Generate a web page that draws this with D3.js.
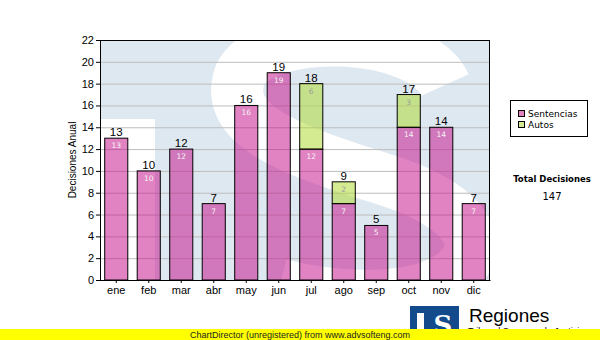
<!DOCTYPE html>
<html><head><meta charset="utf-8">
<script src="https://cdn.jsdelivr.net/npm/d3@7"></script>
<style>body{margin:0;background:#fff}svg{display:block}</style>
</head><body>
<script>
const months = ["ene","feb","mar","abr","may","jun","jul","ago","sep","oct","nov","dic"];
const sentencias = [13,10,12,7,16,19,12,7,5,14,14,7];
const autos = [0,0,0,0,0,0,6,2,0,3,0,0];
const seriesNames = ["Sentencias","Autos"];
const yTicks = [0,2,4,6,8,10,12,14,16,18,20,22];
const totalLabel = "Total Decisiones";

const W=600,H=340;
const L=100,R=490,T=40,B=280;
const svg=d3.select("body").append("svg").attr("width",W).attr("height",H);
const x=d3.scaleBand().domain(months).range([L,R]).paddingInner(0.29).paddingOuter(0.145);
const y=d3.scaleLinear().domain([0,22]).range([B,T]);

const pinkFill="rgb(198,18,139)", greenFill="rgb(176,218,49)", op=0.53;

// plot background + watermark
svg.append("clipPath").attr("id","pc").append("rect").attr("x",L).attr("y",T).attr("width",R-L).attr("height",B-T);
const bg=svg.append("g").attr("clip-path","url(#pc)");
bg.append("rect").attr("x",L).attr("y",T).attr("width",R-L).attr("height",B-T).attr("fill","#dee8f1");
bg.append("rect").attr("x",L).attr("y",119).attr("width",55).attr("height",170).attr("fill","#fff");
bg.append("path").attr("d","M 445 85 C 420 30, 265 25, 240 75 C 222 125, 290 150, 380 178 C 470 205, 495 250, 445 280 C 400 305, 320 295, 280 285")
  .attr("fill","none").attr("stroke","#fff").attr("stroke-width",52);

// gridlines
svg.append("g").selectAll("line").data(yTicks.filter(d=>d>0&&d<22)).join("line")
  .attr("x1",L).attr("x2",R).attr("y1",d=>y(d)+0.5).attr("y2",d=>y(d)+0.5)
  .attr("stroke","#bdbdbd").attr("stroke-width",1);

// bars
const stack=months.map((m,i)=>({m,s:sentencias[i],a:autos[i],t:sentencias[i]+autos[i]}));
const g=svg.append("g");
g.selectAll("rect.s").data(stack).join("rect").attr("class","s")
  .attr("x",d=>x(d.m)).attr("width",x.bandwidth())
  .attr("y",d=>y(d.s)).attr("height",d=>y(0)-y(d.s))
  .attr("fill",pinkFill).attr("fill-opacity",op).attr("stroke","#000").attr("stroke-width",1);
g.selectAll("rect.a").data(stack.filter(d=>d.a>0)).join("rect").attr("class","a")
  .attr("x",d=>x(d.m)).attr("width",x.bandwidth())
  .attr("y",d=>y(d.s+d.a)).attr("height",d=>y(d.s)-y(d.s+d.a))
  .attr("fill",greenFill).attr("fill-opacity",op).attr("stroke","#000").attr("stroke-width",1);

// inner labels
g.selectAll("text.si").data(stack).join("text").attr("class","si")
  .attr("x",d=>x(d.m)+x.bandwidth()/2).attr("y",d=>y(d.s)+10)
  .attr("text-anchor","middle").attr("font-family","DejaVu Sans").attr("font-size",7.5)
  .attr("fill","#f4f4f4").text(d=>d.s);
g.selectAll("text.ai").data(stack.filter(d=>d.a>0)).join("text").attr("class","ai")
  .attr("x",d=>x(d.m)+x.bandwidth()/2).attr("y",d=>y(d.s+d.a)+10)
  .attr("text-anchor","middle").attr("font-family","DejaVu Sans").attr("font-size",7.5)
  .attr("fill","#9a9a9a").text(d=>d.a);
// totals
g.selectAll("text.t").data(stack).join("text").attr("class","t")
  .attr("x",d=>x(d.m)+x.bandwidth()/2).attr("y",d=>y(d.t)-2)
  .attr("text-anchor","middle").attr("font-family","Liberation Sans").attr("font-size",11.5)
  .attr("fill","#000").text(d=>d.t);

// frame
svg.append("rect").attr("x",L+0.5).attr("y",T+0.5).attr("width",R-L-1).attr("height",B-T).attr("fill","none").attr("stroke","#000");

// axes
const ya=svg.append("g").attr("transform",`translate(${L},0)`)
  .call(d3.axisLeft(y).tickValues(yTicks).tickSize(4).tickPadding(2).tickSizeOuter(0));
ya.select(".domain").attr("stroke","#000");
ya.selectAll("text").attr("font-family","Liberation Sans").attr("font-size",11).attr("fill","#000");
const xa=svg.append("g").attr("transform",`translate(0,${B})`)
  .call(d3.axisBottom(x).tickSize(3).tickPadding(3).tickSizeOuter(0));
xa.select(".domain").attr("stroke","#000");
xa.selectAll("text").attr("font-family","Liberation Sans").attr("font-size",11).attr("fill","#000");

svg.append("text").attr("transform","translate(76,160) rotate(-90)").attr("text-anchor","middle")
  .attr("font-family","Liberation Sans").attr("font-size",10).text("Decisiones Anual");

// legend
const lg=svg.append("g");
lg.append("rect").attr("x",510.5).attr("y",100.5).attr("width",77).attr("height",36).attr("fill","#fff").attr("stroke","#000");
const lc=[pinkFill,greenFill];
seriesNames.forEach((n,i)=>{
  lg.append("rect").attr("x",518.5).attr("y",110.5+i*11).attr("width",6).attr("height",6)
    .attr("fill",lc[i]).attr("fill-opacity",op).attr("stroke","#000");
  lg.append("text").attr("x",528).attr("y",117+i*11).attr("font-family","DejaVu Sans").attr("font-size",9).text(n);
});

const total=d3.sum(sentencias)+d3.sum(autos);
svg.append("text").attr("x",552).attr("y",181.5).attr("text-anchor","middle").attr("font-family","DejaVu Sans")
  .attr("font-weight","bold").attr("font-size",8.5).text(totalLabel);
svg.append("text").attr("x",552).attr("y",200).attr("text-anchor","middle").attr("font-family","DejaVu Sans")
  .attr("font-size",10).text(total);

// logo
const lo=svg.append("g");
lo.append("rect").attr("x",410).attr("y",306).attr("width",49).attr("height",34).attr("fill","#124a8c");
lo.append("rect").attr("x",417).attr("y",313).attr("width",7).attr("height",27).attr("fill","#fff");
lo.append("text").attr("x",443).attr("y",334).attr("text-anchor","middle").attr("font-family","DejaVu Serif")
  .attr("font-weight","bold").attr("font-size",26).attr("fill","#fff").text("S");
lo.append("text").attr("x",469).attr("y",322).attr("font-family","Liberation Sans").attr("font-size",19).attr("fill","#000").text("Regiones");
lo.append("text").attr("x",468).attr("y",334).attr("font-family","Liberation Sans").attr("font-size",9).attr("fill","#000").text("Tribunal Supremo de Justicia");

svg.append("rect").attr("x",0).attr("y",329).attr("width",600).attr("height",11).attr("fill","#ffff00");
svg.append("text").attr("x",300).attr("y",338).attr("text-anchor","middle").attr("font-family","Liberation Sans")
  .attr("font-size",9.5).attr("textLength",220).attr("lengthAdjust","spacingAndGlyphs").attr("fill","#222")
  .text("ChartDirector (unregistered) from www.advsofteng.com");
</script>
</body></html>
